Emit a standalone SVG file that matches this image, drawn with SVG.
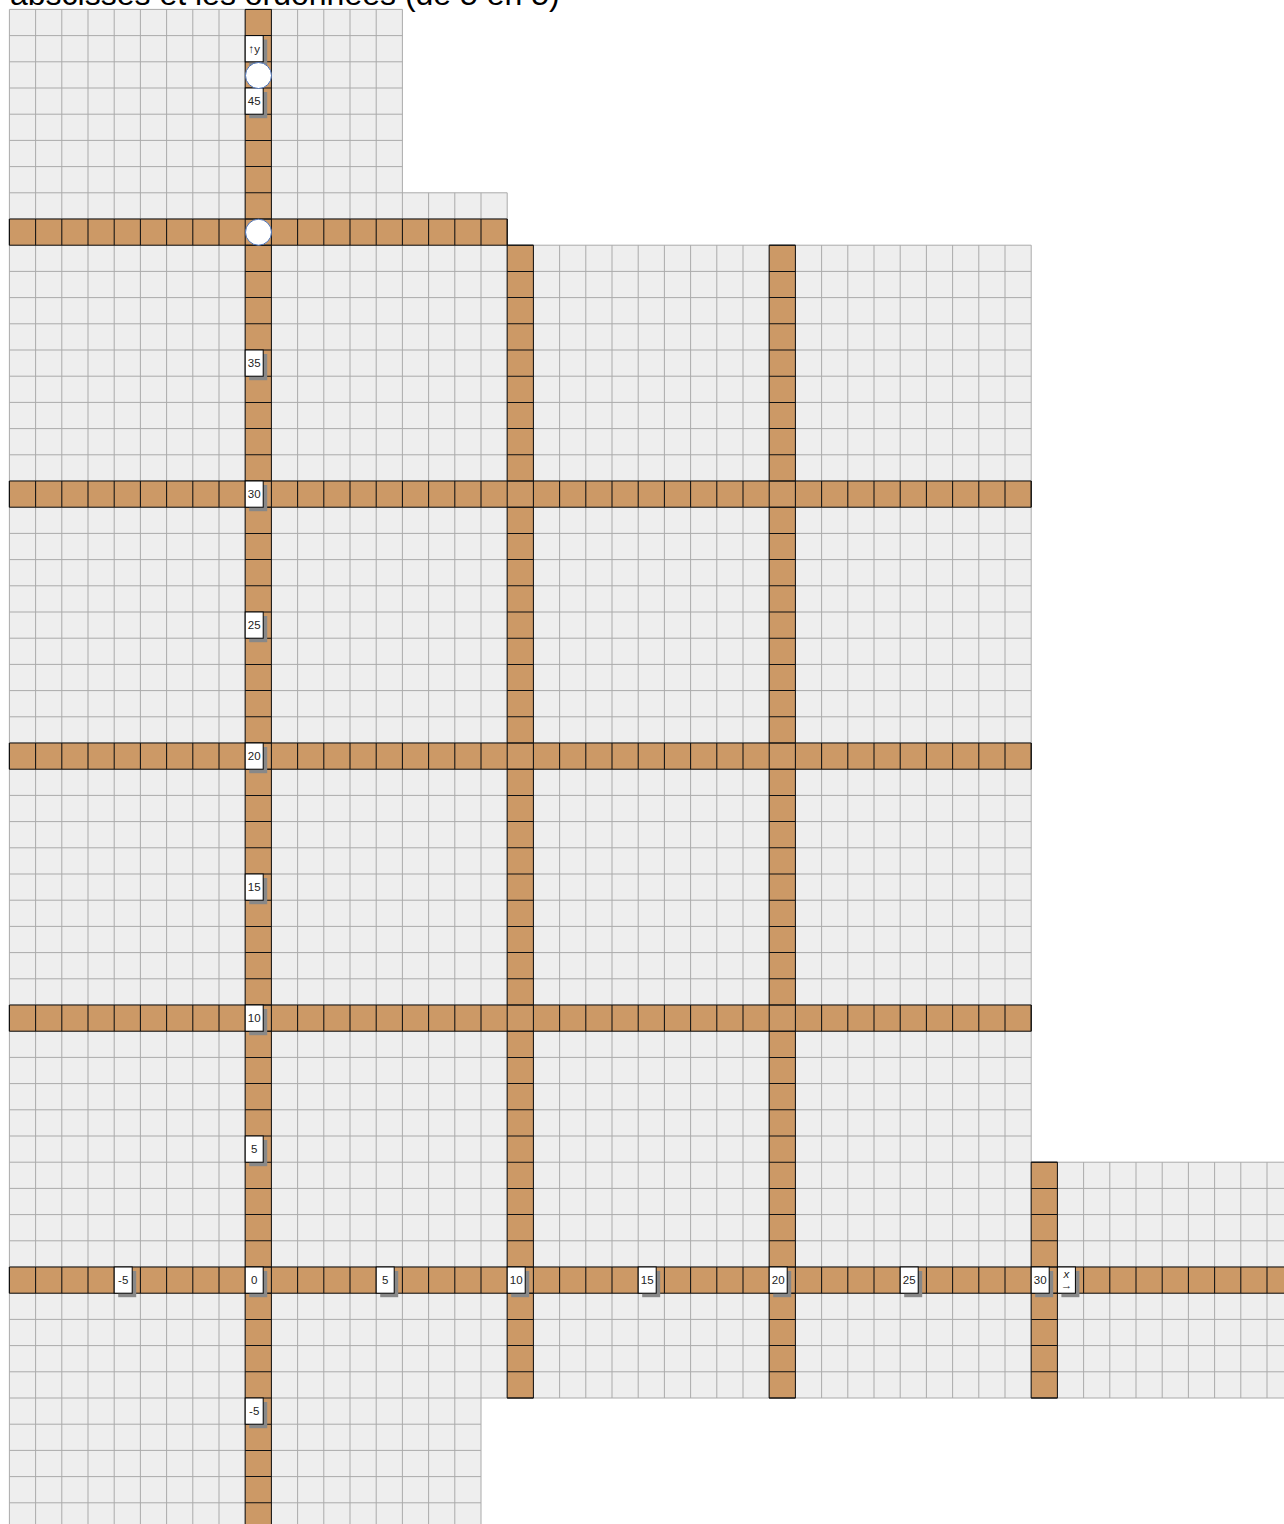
<svg xmlns="http://www.w3.org/2000/svg" width="1284" height="1524" viewBox="0 0 1284 1524">
<style>
.g{fill:none;stroke:#aaa;stroke-width:1}
.o{fill:#cc9966;stroke:#111;stroke-width:1}
.sep{fill:none;stroke:#111;stroke-width:1;stroke-dasharray:0.04 0.96}
.pt{fill:#fff;stroke:#4a72b8;stroke-width:1}
.sh{fill:#888}
.bx{fill:#fff;stroke:#000;stroke-width:1}
.lt{font-family:"Liberation Sans",Arial,sans-serif;font-size:11.5px;fill:#222;text-anchor:middle}
.title{font-family:"Liberation Sans",Arial,sans-serif;font-size:32px;fill:#000}
</style>
<rect width="1284" height="1524" fill="#fff"/>
<text class="title" x="10" y="5">abscisses et les ordonnées (de 5 en 5)</text>
<g id="grid" transform="translate(9.4 9.4) scale(26.2)">
<path fill="#eeeeee" d="M0 0H15V7H19V9H39V44H49V53H18V58H0Z"/>
<path class="g" vector-effect="non-scaling-stroke" d="M0 0H15M0 1H15M0 2H15M0 3H15M0 4H15M0 5H15M0 6H15M0 7H19M0 8H19M0 9H39M0 10H39M0 11H39M0 12H39M0 13H39M0 14H39M0 15H39M0 16H39M0 17H39M0 18H39M0 19H39M0 20H39M0 21H39M0 22H39M0 23H39M0 24H39M0 25H39M0 26H39M0 27H39M0 28H39M0 29H39M0 30H39M0 31H39M0 32H39M0 33H39M0 34H39M0 35H39M0 36H39M0 37H39M0 38H39M0 39H39M0 40H39M0 41H39M0 42H39M0 43H39M0 44H49M0 45H49M0 46H49M0 47H49M0 48H49M0 49H49M0 50H49M0 51H49M0 52H49M0 53H49M0 54H18M0 55H18M0 56H18M0 57H18M0 0V58M1 0V58M2 0V58M3 0V58M4 0V58M5 0V58M6 0V58M7 0V58M8 0V58M9 0V58M10 0V58M11 0V58M12 0V58M13 0V58M14 0V58M15 0V58M16 7V58M17 7V58M18 7V58M19 7V53M20 9V53M21 9V53M22 9V53M23 9V53M24 9V53M25 9V53M26 9V53M27 9V53M28 9V53M29 9V53M30 9V53M31 9V53M32 9V53M33 9V53M34 9V53M35 9V53M36 9V53M37 9V53M38 9V53M39 9V53M40 44V53M41 44V53M42 44V53M43 44V53M44 44V53M45 44V53M46 44V53M47 44V53M48 44V53M49 44V53"/>
<g id="axes">
<rect class="o" vector-effect="non-scaling-stroke" x="9" y="0" width="1" height="58"/>
<rect class="o" vector-effect="non-scaling-stroke" x="19" y="9" width="1" height="44"/>
<rect class="o" vector-effect="non-scaling-stroke" x="29" y="9" width="1" height="44"/>
<rect class="o" vector-effect="non-scaling-stroke" x="39" y="44" width="1" height="9"/>
<rect class="o" vector-effect="non-scaling-stroke" x="0" y="8" width="19" height="1"/>
<rect class="o" vector-effect="non-scaling-stroke" x="0" y="18" width="39" height="1"/>
<rect class="o" vector-effect="non-scaling-stroke" x="0" y="28" width="39" height="1"/>
<rect class="o" vector-effect="non-scaling-stroke" x="0" y="38" width="39" height="1"/>
<rect class="o" vector-effect="non-scaling-stroke" x="0" y="48" width="49" height="1"/>
<line class="sep" x1="9.5" y1="-0.02" x2="9.5" y2="58.02"/>
<line class="sep" x1="19.5" y1="8.98" x2="19.5" y2="53.02"/>
<line class="sep" x1="29.5" y1="8.98" x2="29.5" y2="53.02"/>
<line class="sep" x1="39.5" y1="43.98" x2="39.5" y2="53.02"/>
<line class="sep" x1="-0.02" y1="8.5" x2="19.02" y2="8.5"/>
<line class="sep" x1="-0.02" y1="18.5" x2="39.02" y2="18.5"/>
<line class="sep" x1="-0.02" y1="28.5" x2="39.02" y2="28.5"/>
<line class="sep" x1="-0.02" y1="38.5" x2="39.02" y2="38.5"/>
<line class="sep" x1="-0.02" y1="48.5" x2="49.02" y2="48.5"/>
</g>
</g>
<g id="labels">
<g id="ly-arrow" transform="translate(245.2 35.6)"><rect class="sh" x="4" y="4" width="18" height="26.2"/><rect class="bx" width="18" height="26.2"/><text class="lt" x="9" y="17">↑y</text></g>
<g id="ly45" transform="translate(245.2 88)"><rect class="sh" x="4" y="4" width="18" height="26.2"/><rect class="bx" width="18" height="26.2"/><text class="lt" x="9" y="17">45</text></g>
<g id="ly35" transform="translate(245.2 350)"><rect class="sh" x="4" y="4" width="18" height="26.2"/><rect class="bx" width="18" height="26.2"/><text class="lt" x="9" y="17">35</text></g>
<g id="ly30" transform="translate(245.2 481)"><rect class="sh" x="4" y="4" width="18" height="26.2"/><rect class="bx" width="18" height="26.2"/><text class="lt" x="9" y="17">30</text></g>
<g id="ly25" transform="translate(245.2 612)"><rect class="sh" x="4" y="4" width="18" height="26.2"/><rect class="bx" width="18" height="26.2"/><text class="lt" x="9" y="17">25</text></g>
<g id="ly20" transform="translate(245.2 743)"><rect class="sh" x="4" y="4" width="18" height="26.2"/><rect class="bx" width="18" height="26.2"/><text class="lt" x="9" y="17">20</text></g>
<g id="ly15" transform="translate(245.2 874)"><rect class="sh" x="4" y="4" width="18" height="26.2"/><rect class="bx" width="18" height="26.2"/><text class="lt" x="9" y="17">15</text></g>
<g id="ly10" transform="translate(245.2 1005)"><rect class="sh" x="4" y="4" width="18" height="26.2"/><rect class="bx" width="18" height="26.2"/><text class="lt" x="9" y="17">10</text></g>
<g id="ly5" transform="translate(245.2 1136)"><rect class="sh" x="4" y="4" width="18" height="26.2"/><rect class="bx" width="18" height="26.2"/><text class="lt" x="9" y="17">5</text></g>
<g id="lorigin" transform="translate(245.2 1267)"><rect class="sh" x="4" y="4" width="18" height="26.2"/><rect class="bx" width="18" height="26.2"/><text class="lt" x="9" y="17">0</text></g>
<g id="lym5" transform="translate(245.2 1398)"><rect class="sh" x="4" y="4" width="18" height="26.2"/><rect class="bx" width="18" height="26.2"/><text class="lt" x="9" y="17">-5</text></g>
<g id="lxm5" transform="translate(114.2 1267)"><rect class="sh" x="4" y="4" width="18" height="26.2"/><rect class="bx" width="18" height="26.2"/><text class="lt" x="9" y="17">-5</text></g>
<g id="lx5" transform="translate(376.2 1267)"><rect class="sh" x="4" y="4" width="18" height="26.2"/><rect class="bx" width="18" height="26.2"/><text class="lt" x="9" y="17">5</text></g>
<g id="lx10" transform="translate(507.2 1267)"><rect class="sh" x="4" y="4" width="18" height="26.2"/><rect class="bx" width="18" height="26.2"/><text class="lt" x="9" y="17">10</text></g>
<g id="lx15" transform="translate(638.2 1267)"><rect class="sh" x="4" y="4" width="18" height="26.2"/><rect class="bx" width="18" height="26.2"/><text class="lt" x="9" y="17">15</text></g>
<g id="lx20" transform="translate(769.2 1267)"><rect class="sh" x="4" y="4" width="18" height="26.2"/><rect class="bx" width="18" height="26.2"/><text class="lt" x="9" y="17">20</text></g>
<g id="lx25" transform="translate(900.2 1267)"><rect class="sh" x="4" y="4" width="18" height="26.2"/><rect class="bx" width="18" height="26.2"/><text class="lt" x="9" y="17">25</text></g>
<g id="lx30" transform="translate(1031.2 1267)"><rect class="sh" x="4" y="4" width="18" height="26.2"/><rect class="bx" width="18" height="26.2"/><text class="lt" x="9" y="17">30</text></g>
<g id="lx-arrow" transform="translate(1057.4 1267)"><rect class="sh" x="4" y="4" width="18" height="26.2"/><rect class="bx" width="18" height="26.2"/><text class="lt" x="9" y="11" font-style="italic" font-size="10px">x</text><text class="lt" x="9" y="22" font-size="7px">→</text></g>
</g>
<g id="points">
<circle class="pt" cx="258.5" cy="75.5" r="13"/>
<circle class="pt" cx="258.5" cy="232.2" r="13"/>
</g>
</svg>
